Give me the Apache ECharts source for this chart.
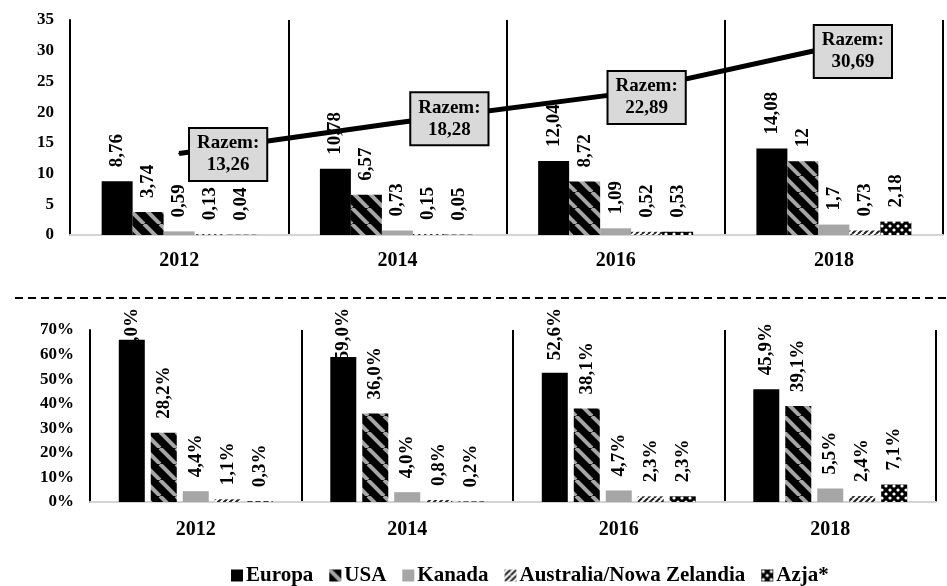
<!DOCTYPE html>
<html>
<head>
<meta charset="utf-8">
<script src="https://cdn.jsdelivr.net/npm/echarts@6/dist/echarts.min.js"></script>
<style>
  html, body { margin: 0; padding: 0; background: #fff; }
  #chart { width: 947px; height: 586px; }
</style>
</head>
<body>
<div id="chart"></div>
<script>
// Years on the category axes
const years = ['2012', '2014', '2016', '2018'];
const regionNames = ['Europa', 'USA', 'Kanada', 'Australia/Nowa Zelandia', 'Azja*'];

// Upper panel: values per region
const europaValues = [8.76, 10.78, 12.04, 14.08];
const usaValues = [3.74, 6.57, 8.72, 12];
const kanadaValues = [0.59, 0.73, 1.09, 1.7];
const australiaValues = [0.13, 0.15, 0.52, 0.73];
const azjaValues = [0.04, 0.05, 0.53, 2.18];
const razemValues = [13.26, 18.28, 22.89, 30.69];

// Lower panel: shares per region (%)
const europaShares = [66.0, 59.0, 52.6, 45.9];
const usaShares = [28.2, 36.0, 38.1, 39.1];
const kanadaShares = [4.4, 4.0, 4.7, 5.5];
const australiaShares = [1.1, 0.8, 2.3, 2.4];
const azjaShares = [0.3, 0.2, 2.3, 7.1];

// Axis scales
const valueAxisMax = 35, valueAxisStep = 5;
const shareAxisMax = 70, shareAxisStep = 10;

// Placement of the "Razem" call-out boxes relative to each line point
const razemBoxShift = [[49, 1], [52, -4], [31, 3], [19, 5]];

const FONT = '"Liberation Serif", "Times New Roman", serif';
const LABEL_SIZE = 19;
const LABEL_GAP = 14;
const LABEL_CEILING = 308; // labels of the lower panel stay below the dashed divider

function tile(size, draw) {
  const c = document.createElement('canvas');
  c.width = size; c.height = size;
  draw(c.getContext('2d'), size);
  return { image: c, repeat: 'repeat' };
}

const fills = [
  '#000000',
  tile(16, (g, s) => {
    g.fillStyle = '#000'; g.fillRect(0, 0, s, s);
    g.strokeStyle = '#a6a6a6'; g.lineWidth = 4;
    for (let k = -1; k <= 1; k++) {
      g.beginPath(); g.moveTo(k * s, 0); g.lineTo(k * s + s, s); g.stroke();
    }
  }),
  '#a6a6a6',
  tile(6, (g, s) => {
    g.fillStyle = '#fff'; g.fillRect(0, 0, s, s);
    g.strokeStyle = '#222'; g.lineWidth = 2;
    for (let k = -1; k <= 1; k++) {
      g.beginPath(); g.moveTo(k * s, s); g.lineTo(k * s + s, 0); g.stroke();
    }
  }),
  tile(8, (g, s) => {
    g.fillStyle = '#000'; g.fillRect(0, 0, s, s);
    g.fillStyle = '#fff';
    [[2, 2], [6, 6]].forEach(([x, y]) => {
      g.beginPath(); g.arc(x, y, 1.6, 0, Math.PI * 2); g.fill();
    });
  })
];

const commaNum = v => String(v).replace('.', ',');
const commaPct = v => v.toFixed(1).replace('.', ',') + '%';

const barLabel = (fmt) => ({
  show: true,
  position: 'top',
  distance: LABEL_GAP,
  rotate: 90,
  align: 'left',
  verticalAlign: 'middle',
  color: '#000',
  fontFamily: FONT,
  fontWeight: 'bold',
  fontSize: LABEL_SIZE,
  formatter: p => fmt(p.value)
});

const topSets = [europaValues, usaValues, kanadaValues, australiaValues, azjaValues];
const bottomSets = [europaShares, usaShares, kanadaShares, australiaShares, azjaShares];

function buildSeries() {
  const series = [];
  topSets.forEach((vals, i) => {
    series.push({
      name: regionNames[i],
      type: 'bar',
      xAxisIndex: 0, yAxisIndex: 0,
      data: vals,
      barGap: '0%',
      barCategoryGap: '29%',
      itemStyle: { color: fills[i] },
      label: barLabel(commaNum),
      z: 2
    });
  });
  series.push({
    name: 'Razem',
    type: 'line',
    xAxisIndex: 0, yAxisIndex: 0,
    data: razemValues.map((v, i) => ({
      value: v,
      label: { offset: razemBoxShift[i] }
    })),
    symbol: 'circle',
    symbolSize: 2,
    itemStyle: { color: '#000' },
    lineStyle: { color: '#000', width: 5 },
    z: 5,
    label: {
      show: true,
      position: 'inside',
      formatter: p => 'Razem:\n' + commaNum(p.value),
      color: '#000',
      fontFamily: FONT,
      fontWeight: 'bold',
      fontSize: 19,
      lineHeight: 22,
      align: 'center',
      verticalAlign: 'middle',
      backgroundColor: '#d9d9d9',
      borderColor: '#000',
      borderWidth: 2,
      padding: [4, 7, 3, 7]
    }
  });
  bottomSets.forEach((vals, i) => {
    series.push({
      name: regionNames[i],
      type: 'bar',
      xAxisIndex: 1, yAxisIndex: 1,
      data: vals.slice(),
      barGap: '23%',
      barWidth: 26,
      itemStyle: { color: fills[i] },
      label: barLabel(commaPct),
      z: 2
    });
  });
  return series;
}

const axisLabelStyle = { color: '#000', fontFamily: FONT, fontWeight: 'bold' };

const option = {
  animation: false,
  backgroundColor: '#fff',
  grid: [
    { left: 70, right: 4, top: 20, bottom: 351 },
    { left: 90, right: 11, top: 330, bottom: 84 }
  ],
  xAxis: [0, 1].map(gi => ({
    type: 'category',
    gridIndex: gi,
    data: years,
    axisLine: { show: true, lineStyle: { color: '#d4d4d4', width: 2 } },
    axisTick: { show: false },
    splitLine: { show: true, lineStyle: { color: '#000', width: 2 } },
    axisLabel: Object.assign({ fontSize: 20, margin: gi === 0 ? 16 : 18 }, axisLabelStyle)
  })),
  yAxis: [
    {
      type: 'value', gridIndex: 0, min: 0, max: valueAxisMax, interval: valueAxisStep,
      axisLine: { show: true, lineStyle: { color: '#000', width: 2 } },
      axisTick: { show: false },
      splitLine: { show: false },
      axisLabel: Object.assign({ fontSize: 17, margin: 16 }, axisLabelStyle)
    },
    {
      type: 'value', gridIndex: 1, min: 0, max: shareAxisMax, interval: shareAxisStep,
      axisLine: { show: true, lineStyle: { color: '#000', width: 2 } },
      axisTick: { show: false },
      splitLine: { show: false },
      axisLabel: Object.assign({ fontSize: 17, margin: 16, formatter: '{value}%' }, axisLabelStyle)
    }
  ],
  legend: {
    data: regionNames,
    left: 226,
    top: 560,
    icon: 'rect',
    itemWidth: 12,
    itemHeight: 12,
    itemGap: 16,
    textStyle: { color: '#000', fontFamily: FONT, fontWeight: 'bold', fontSize: 21, padding: [0, 0, 0, -2] }
  },
  graphic: [{
    type: 'line',
    shape: { x1: 15, y1: 298, x2: 947, y2: 298 },
    style: { stroke: '#000', lineWidth: 2, lineDash: [8, 5] },
    silent: true
  }],
  series: buildSeries()
};

const chart = echarts.init(document.getElementById('chart'), null, { renderer: 'canvas' });
chart.setOption(option);

// Tall labels in the lower panel are pulled down so they end at the divider
const measure = document.createElement('canvas').getContext('2d');
measure.font = 'bold ' + LABEL_SIZE + 'px ' + FONT;
const lowerStart = 1 + topSets.length;
const patched = option.series.map(s => ({}));
bottomSets.forEach((vals, si) => {
  patched[lowerStart + si] = {
    data: vals.map((v, i) => {
      const barTop = chart.convertToPixel({ xAxisIndex: 1, yAxisIndex: 1 }, [i, v])[1];
      const len = measure.measureText(commaPct(v)).width;
      if (barTop - LABEL_GAP - len < LABEL_CEILING) {
        return { value: v, label: { distance: barTop - LABEL_CEILING - len } };
      }
      return v;
    })
  };
});
chart.setOption({ series: patched });
</script>
</body>
</html>
